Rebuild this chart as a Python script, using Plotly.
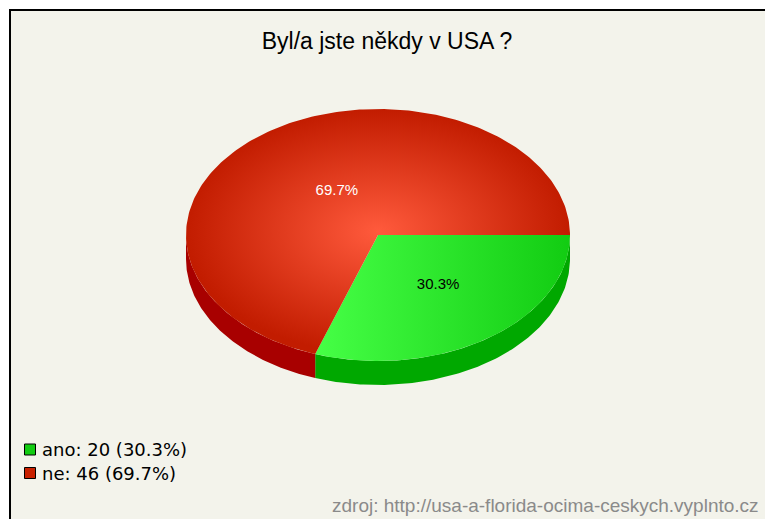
import numpy as np
import plotly.graph_objects as go

# ---- data ----
labels = ["ano", "ne"]
values = [20, 46]
top_colors = [["#46ff46", "#12cc12"], ["#ff5a3c", "#c21c00"]]
side_colors = ["#00a800", "#a80000"]
legend_colors = ["#12cc12", "#c82000"]
label_colors = ["black", "white"]
title_text = "Byl/a jste někdy v USA ?"
source_text = "zdroj: http://usa-a-florida-ocima-ceskych.vyplnto.cz"

# ---- geometry (pixel-space axes) ----
W, H = 765, 519
cx, cy, rx, ry, depth = 378, 235, 192, 126, 24

total = sum(values)
fracs = [v / total for v in values]
starts = np.cumsum([0] + fracs[:-1]) * 360.0
ends = np.cumsum(fracs) * 360.0

fig = go.Figure()

def arc(a0, a1, n=120, dy=0.0):
    t = np.radians(np.linspace(a0, a1, n))
    return cx + rx * np.cos(t), cy + ry * np.sin(t) + dy

# side walls (front half: 0..180 deg, screen y down)
for i in range(len(values)):
    a0, a1 = max(starts[i], 0), min(ends[i], 180)
    if a1 > a0:
        xt, yt = arc(a0, a1)
        xb, yb = arc(a1, a0, dy=depth)
        fig.add_trace(go.Scatter(
            x=np.concatenate([xt, xb, xt[:1]]), y=np.concatenate([yt, yb, yt[:1]]),
            mode="lines", fill="toself", fillcolor=side_colors[i],
            line=dict(width=0, color=side_colors[i]), hoverinfo="skip", showlegend=False))

# top faces
for i in range(len(values)):
    xa, ya = arc(starts[i], ends[i], n=240)
    gtype = "radial" if i == 1 else "horizontal"
    fig.add_trace(go.Scatter(
        x=np.concatenate([[cx], xa, [cx]]), y=np.concatenate([[cy], ya, [cy]]),
        mode="lines", fill="toself",
        fillgradient=dict(type=gtype, colorscale=[[0, top_colors[i][0]], [1, top_colors[i][1]]]),
        line=dict(width=0, color=top_colors[i][1]), hoverinfo="skip", showlegend=False))

# percentage labels
mids = np.radians((starts + ends) / 2)
lx = cx + 0.45 * rx * np.cos(mids) + np.array([10, 9])
ly = cy + 0.45 * ry * np.sin(mids) + np.array([4, 2])
for i in range(len(values)):
    fig.add_trace(go.Scatter(
        x=[lx[i]], y=[ly[i]], mode="text", text=[f"{fracs[i]*100:.1f}%"],
        textfont=dict(family="Liberation Sans", size=15, color=label_colors[i]),
        hoverinfo="skip", showlegend=False))

# legend (squares + text)
leg_x, leg_y0, leg_dy = 30, 449.5, 23.5
leg_ys = [leg_y0 + k * leg_dy for k in range(len(values))]
fig.add_trace(go.Scatter(
    x=[leg_x] * len(values), y=leg_ys, mode="markers",
    marker=dict(symbol="square", size=11, color=legend_colors, line=dict(color="black", width=1)),
    hoverinfo="skip", showlegend=False))

annotations = [
    dict(text=f"{labels[i]}: {values[i]} ({fracs[i]*100:.1f}%)", xref="x", yref="y",
         x=leg_x + 10, y=leg_ys[i], xanchor="left", yanchor="middle", showarrow=False,
         font=dict(family="DejaVu Sans", size=18, color="black"))
    for i in range(len(values))
]
annotations.append(dict(text=source_text, xref="x", yref="y", x=761, y=505, xanchor="right",
                        yanchor="middle", showarrow=False,
                        font=dict(family="Liberation Sans", size=19, color="#8a8a8a")))

fig.update_layout(
    width=W, height=H, margin=dict(l=0, r=0, t=0, b=0),
    paper_bgcolor="white", plot_bgcolor="rgba(0,0,0,0)",
    xaxis=dict(range=[0, W], visible=False, fixedrange=True),
    yaxis=dict(range=[H, 0], visible=False, fixedrange=True),
    title=dict(text=title_text, x=387 / W, xanchor="center", y=1 - 41 / H, yanchor="middle",
               font=dict(family="Liberation Sans", size=23, color="black")),
    showlegend=False,
    shapes=[dict(type="rect", xref="x", yref="y", x0=10, y0=10, x1=W + 10, y1=H + 10,
                 fillcolor="#f3f3eb", line=dict(color="black", width=2), layer="below")],
    annotations=annotations,
)

fig.write_html("out.html", config={"displayModeBar": False},
               post_script="document.body.style.margin='0';")
